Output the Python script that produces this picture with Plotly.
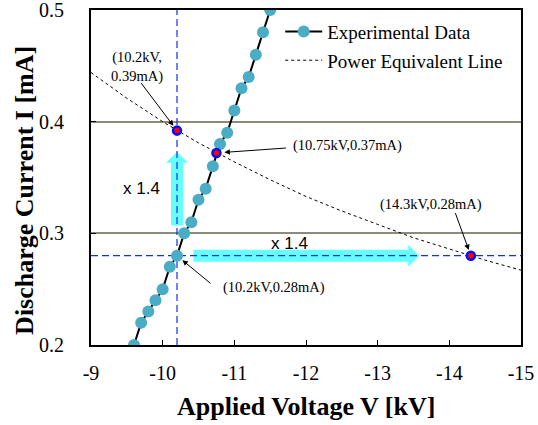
import plotly.graph_objects as go

# experimental data (applied voltage in kV, discharge current in mA)
voltage = [-9.6, -9.7, -9.8, -9.9, -10.0, -10.1, -10.2, -10.3, -10.4, -10.5,
           -10.6, -10.7, -10.8, -10.9, -11.0, -11.1, -11.2, -11.3, -11.4, -11.5]
current = [0.20, 0.22, 0.23, 0.24, 0.25, 0.27, 0.28, 0.30, 0.31, 0.33,
           0.34, 0.36, 0.38, 0.39, 0.41, 0.43, 0.44, 0.46, 0.48, 0.50]

# power equivalent line
power_v = [-9.0, -9.5, -10.0, -10.5, -11.0, -11.5, -12.0, -12.5, -13.0, -13.5, -14.0, -14.5, -15.0]
power_i = [0.444, 0.421, 0.400, 0.381, 0.364, 0.348, 0.333, 0.320, 0.308, 0.296, 0.286, 0.276, 0.267]

# marked operating points
mark_v = [-10.2, -10.75, -14.3]
mark_i = [0.392, 0.372, 0.28]

# reference lines
ref_v = -10.2
ref_i = 0.28

# labelled points
label_text = ['(10.2kV,<br>0.39mA)', '(10.75kV,0.37mA)', '(14.3kV,0.28mA)', '(10.2kV,0.28mA)']
label_v = [-10.2, -10.75, -14.3, -10.2]
label_i = [0.392, 0.372, 0.28, 0.28]

# x1.4 arrows
up_arrow = dict(v=-10.2, i0=0.307, i1=0.373)
right_arrow = dict(i=0.28, v0=-10.43, v1=-13.58)

x_ticks = [-9, -10, -11, -12, -13, -14, -15]
x_ticktext = ['-9', '-10', '-11', '-12', '-13', '-14', '-15']
y_ticks = [0.2, 0.3, 0.4, 0.5]
y_ticktext = ['0.2', '0.3', '0.4', '0.5']

W, H = 538, 425
margin = dict(l=91, r=17, t=10, b=80)
xrange_ = [-9, -15]
yrange_ = [0.2, 0.5]
px_x = (W - margin['l'] - margin['r']) / abs(xrange_[1] - xrange_[0])
px_y = (H - margin['t'] - margin['b']) / abs(yrange_[1] - yrange_[0])

SERIF = 'Liberation Serif'
SANS = 'Liberation Sans'
CYAN = '#66FFFF'
BLUE = '#1030F0'


def up_path(a, shaft=6, head=11, head_len=11):
    # pixel sizes -> data units
    dx_s = shaft / px_x
    dx_h = head / px_x
    dy_h = head_len / px_y
    v, y0, y1 = a['v'], a['i0'], a['i1']
    yb = y1 - dy_h
    return (f'M{v - dx_s},{y0} L{v - dx_s},{yb} L{v - dx_h},{yb} L{v},{y1} '
            f'L{v + dx_h},{yb} L{v + dx_s},{yb} L{v + dx_s},{y0} Z')


def right_path(a, shaft=6, head=11, head_len=11):
    dy_s = shaft / px_y
    dy_h = head / px_y
    dx_h = head_len / px_x
    i, x0, x1 = a['i'], a['v0'], a['v1']
    xb = x1 + dx_h  # axis is negative going right
    return (f'M{x0},{i - dy_s} L{xb},{i - dy_s} L{xb},{i - dy_h} L{x1},{i} '
            f'L{xb},{i + dy_h} L{xb},{i + dy_s} L{x0},{i + dy_s} Z')


fig = go.Figure()

fig.add_trace(go.Scatter(
    x=power_v, y=power_i, mode='lines', name='Power Equivalent Line',
    line=dict(color='black', width=1, dash='3px,3px'),
    legendgroup='b', legendrank=2))

fig.add_trace(go.Scatter(
    x=[ref_v, ref_v], y=yrange_, mode='lines', showlegend=False,
    line=dict(color=BLUE, width=1.2, dash='7px,4px')))
fig.add_trace(go.Scatter(
    x=xrange_, y=[ref_i, ref_i], mode='lines', showlegend=False,
    line=dict(color=BLUE, width=1.2, dash='7px,4px')))

fig.add_trace(go.Scatter(
    x=voltage, y=current, mode='lines+markers', name='Experimental Data',
    line=dict(color='black', width=2),
    marker=dict(color='#4BACC6', size=12),
    legendgroup='a', legendrank=1))

fig.add_trace(go.Scatter(
    x=mark_v, y=mark_i, mode='markers', showlegend=False,
    marker=dict(color='red', size=8, line=dict(color='#0010FF', width=2.5))))

# cyan arrows drawn under the traces
fig.add_shape(type='path', path=up_path(up_arrow), xref='x', yref='y',
              fillcolor=CYAN, line=dict(width=0), layer='between')
fig.add_shape(type='path', path=right_path(right_arrow), xref='x', yref='y',
              fillcolor=CYAN, line=dict(width=0), layer='between')

# label texts and pointer arrows
text_shift = [(-40, 64), (131, 7), (-40, 51), (97, -32)]
arrow_tail = [(-37, -49), (71, -5), (-16, -44), (35, 29)]
arrow_standoff = [6, 8, 6, 7]
for t, v, i, (sx, sy), (ax, ay), so in zip(label_text, label_v, label_i,
                                           text_shift, arrow_tail, arrow_standoff):
    fig.add_annotation(x=v, y=i, text=t, showarrow=False, xshift=sx, yshift=sy,
                       font=dict(family=SERIF, size=14.5, color='black'))
    fig.add_annotation(x=v, y=i, text='', showarrow=True, ax=ax, ay=ay,
                       arrowhead=2, arrowsize=1.1, arrowwidth=1, arrowcolor='black',
                       standoff=so)

fig.add_annotation(x=-9.70, y=0.3406, text='x 1.4', showarrow=False,
                   font=dict(family=SANS, size=17, color='black'))
fig.add_annotation(x=-11.77, y=0.2913, text='x 1.4', showarrow=False,
                   font=dict(family=SANS, size=17, color='black'))

# axis titles
fig.add_annotation(xref='paper', yref='paper', x=0.5, y=-0.185,
                   text='Applied Voltage V [kV]', showarrow=False,
                   xanchor='center', yanchor='middle',
                   font=dict(family=SERIF, size=26, weight='bold', color='black'))
fig.add_annotation(xref='paper', yref='paper', x=-0.1535, y=0.463,
                   text='Discharge Current I [mA]', showarrow=False, textangle=-90,
                   xanchor='center', yanchor='middle',
                   font=dict(family=SERIF, size=26, weight='bold', color='black'))

fig.update_layout(
    width=W, height=H,
    margin=margin,
    paper_bgcolor='white',
    plot_bgcolor='white',
    font=dict(family=SERIF, size=20, color='black'),
    legend=dict(
        x=0.44, y=0.992, xanchor='left', yanchor='top',
        bgcolor='rgba(0,0,0,0)',
        font=dict(family=SERIF, size=19),
        traceorder='grouped',
        tracegroupgap=1,
        itemwidth=37,
    ),
    xaxis=dict(
        range=xrange_, automargin=False,
        tickvals=x_ticks, ticktext=x_ticktext,
        showgrid=False, zeroline=False,
        showline=True, linecolor='black', linewidth=2, mirror=True,
        ticks='inside', ticklen=5, tickcolor='black',
        ticklabelstandoff=9, ticklabeloverflow='allow',
        tickfont=dict(family=SERIF, size=20),
    ),
    yaxis=dict(
        range=yrange_, automargin=False,
        tickvals=y_ticks, ticktext=y_ticktext,
        showgrid=True, gridcolor='#8C8A78', gridwidth=1.5, zeroline=False,
        showline=True, linecolor='black', linewidth=2, mirror=True,
        ticks='inside', ticklen=5, tickcolor='black',
        ticklabelstandoff=21, ticklabeloverflow='allow',
        tickfont=dict(family=SERIF, size=20),
    ),
)

# drop the browser's default body margin so the figure sits at the page corner
fig.write_html('out.html', config={'displayModeBar': False},
               post_script="document.body.style.margin='0';")
